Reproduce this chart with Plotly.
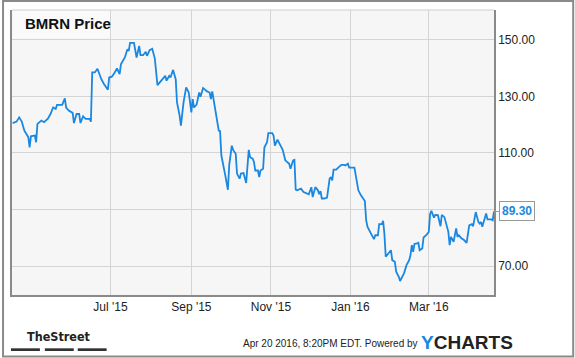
import plotly.graph_objects as go

dates = [
    "2015-04-17", "2015-04-20", "2015-04-22", "2015-04-24", "2015-04-26", "2015-04-29", "2015-04-30",
    "2015-05-01", "2015-05-04", "2015-05-05", "2015-05-06", "2015-05-09", "2015-05-11", "2015-05-14",
    "2015-05-16", "2015-05-18", "2015-05-20", "2015-05-21", "2015-05-23", "2015-05-25", "2015-05-27",
    "2015-05-28", "2015-05-30", "2015-06-02", "2015-06-03", "2015-06-05", "2015-06-07", "2015-06-08",
    "2015-06-10", "2015-06-12", "2015-06-15", "2015-06-16", "2015-06-17", "2015-06-19", "2015-06-21",
    "2015-06-24", "2015-06-26", "2015-06-29", "2015-06-30", "2015-07-02", "2015-07-04", "2015-07-06",
    "2015-07-08", "2015-07-09", "2015-07-12", "2015-07-14", "2015-07-15", "2015-07-16", "2015-07-19",
    "2015-07-21", "2015-07-23", "2015-07-24", "2015-07-26", "2015-07-28", "2015-07-29", "2015-07-31",
    "2015-08-02", "2015-08-04", "2015-08-06", "2015-08-08", "2015-08-10", "2015-08-12", "2015-08-13",
    "2015-08-15", "2015-08-16", "2015-08-18", "2015-08-20", "2015-08-21", "2015-08-23", "2015-08-24",
    "2015-08-26", "2015-08-28", "2015-08-30", "2015-09-01", "2015-09-02", "2015-09-03", "2015-09-05",
    "2015-09-07", "2015-09-08", "2015-09-10", "2015-09-11", "2015-09-13", "2015-09-15", "2015-09-16",
    "2015-09-17", "2015-09-19", "2015-09-22", "2015-09-23", "2015-09-24", "2015-09-27", "2015-09-29",
    "2015-09-30", "2015-10-02", "2015-10-03", "2015-10-05", "2015-10-06", "2015-10-08", "2015-10-09",
    "2015-10-11", "2015-10-13", "2015-10-15", "2015-10-16", "2015-10-18", "2015-10-19", "2015-10-20",
    "2015-10-22", "2015-10-23", "2015-10-24", "2015-10-26", "2015-10-27", "2015-10-29", "2015-10-30",
    "2015-11-02", "2015-11-03", "2015-11-04", "2015-11-06", "2015-11-09", "2015-11-10", "2015-11-12",
    "2015-11-14", "2015-11-15", "2015-11-16", "2015-11-18", "2015-11-19", "2015-11-20", "2015-11-21",
    "2015-11-24", "2015-11-26", "2015-11-29", "2015-11-30", "2015-12-02", "2015-12-03", "2015-12-05",
    "2015-12-07", "2015-12-08", "2015-12-09", "2015-12-10", "2015-12-12", "2015-12-14", "2015-12-16",
    "2015-12-17", "2015-12-18", "2015-12-19", "2015-12-21", "2015-12-23", "2015-12-25", "2015-12-27",
    "2015-12-28", "2015-12-30", "2015-12-31", "2016-01-04", "2016-01-05", "2016-01-07", "2016-01-09",
    "2016-01-11", "2016-01-12", "2016-01-13", "2016-01-14", "2016-01-16", "2016-01-19", "2016-01-20",
    "2016-01-22", "2016-01-23", "2016-01-25", "2016-01-26", "2016-01-27", "2016-01-28", "2016-01-30",
    "2016-02-01", "2016-02-02", "2016-02-04", "2016-02-05", "2016-02-07", "2016-02-08", "2016-02-10",
    "2016-02-11", "2016-02-13", "2016-02-15", "2016-02-16", "2016-02-17", "2016-02-18", "2016-02-19",
    "2016-02-21", "2016-02-22", "2016-02-23", "2016-02-25", "2016-02-26", "2016-02-28", "2016-03-01",
    "2016-03-02", "2016-03-03", "2016-03-05", "2016-03-06", "2016-03-08", "2016-03-10", "2016-03-11",
    "2016-03-13", "2016-03-14", "2016-03-16", "2016-03-17", "2016-03-18", "2016-03-20", "2016-03-22",
    "2016-03-23", "2016-03-24", "2016-03-26", "2016-03-28", "2016-03-30", "2016-04-01", "2016-04-03",
    "2016-04-04", "2016-04-06", "2016-04-08", "2016-04-09", "2016-04-10", "2016-04-11", "2016-04-13",
    "2016-04-14", "2016-04-15", "2016-04-18", "2016-04-19", "2016-04-20",
]

prices = [
    120.6, 121.1, 122.6, 121.1, 117.9, 115.6, 112.0,
    115.9, 116.2, 113.8, 120.3, 121.5, 120.9, 122.1,
    123.8, 126.1, 125.6, 127.0, 127.0, 127.0, 129.3,
    126.1, 125.0, 124.2, 120.6, 123.8, 123.8, 120.6,
    123.0, 122.1, 122.1, 121.1, 138.5, 138.5, 139.8,
    136.1, 134.4, 132.4, 136.7, 137.0, 138.3, 139.9,
    137.9, 141.4, 143.8, 146.7, 146.1, 149.0, 149.0,
    143.8, 147.9, 144.6, 144.6, 145.8, 144.4, 146.4,
    146.9, 143.4, 134.0, 135.0, 136.1, 137.3, 135.6,
    137.3, 136.7, 139.4, 136.1, 127.9, 123.2, 119.7,
    127.9, 133.2, 131.4, 124.4, 129.1, 126.1, 127.1,
    131.4, 129.9, 133.0, 132.6, 131.8, 131.4, 129.1,
    131.8, 126.7, 117.9, 117.7, 109.1, 102.1, 97.0,
    105.6, 112.6, 111.1, 109.7, 102.7, 100.9, 102.7,
    102.9, 99.4, 111.1, 108.5, 108.0, 106.8, 103.8,
    103.8, 101.5, 103.8, 104.4, 112.0, 113.8, 117.0,
    117.0, 116.2, 112.6, 114.7, 111.8, 111.1, 107.4,
    106.8, 106.2, 104.4, 107.4, 107.6, 97.0, 96.8,
    97.4, 96.2, 95.8, 95.4, 97.9, 94.4, 97.9,
    96.8, 95.4, 96.5, 93.9, 93.9, 94.2, 100.9,
    101.5, 100.3, 104.1, 104.1, 105.0, 105.8, 105.8,
    105.6, 106.2, 104.8, 104.8, 102.1, 96.8, 95.0,
    93.5, 93.0, 86.2, 83.9, 82.1, 79.5, 80.9,
    80.9, 84.8, 84.8, 86.0, 81.3, 73.3, 74.5,
    75.6, 72.1, 71.5, 68.0, 66.2, 64.7, 66.8,
    67.4, 70.4, 72.1, 73.9, 77.4, 75.0, 77.8,
    78.0, 78.2, 75.6, 76.2, 80.1, 80.9, 82.1,
    88.3, 89.5, 87.1, 88.1, 88.0, 84.1, 88.1,
    87.3, 85.6, 82.1, 77.4, 80.3, 78.6, 83.3,
    80.3, 80.9, 79.8, 79.2, 78.2, 84.4, 84.8,
    84.1, 89.1, 85.6, 85.0, 85.6, 83.9, 86.8,
    88.6, 86.5, 86.5, 86.2, 89.3,
]

x_tick_vals = ["2015-07-01", "2015-09-01", "2015-11-01", "2016-01-01", "2016-03-01"]
x_tick_text = ["Jul '15", "Sep '15", "Nov '15", "Jan '16", "Mar '16"]
y_tick_vals = [70, 90, 110, 130, 150]
# the 90 label is covered by the last-value flag in the reference
y_tick_text = ["70.00", "", "110.00", "130.00", "150.00"]

title_text = "BMRN Price"
footer_date = "Apr 20 2016, 8:20PM EDT. Powered by"
last_label = "89.30"

FONT = "Liberation Sans, Arial, sans-serif"
BLUE = "#1a87e0"

fig = go.Figure()
fig.add_trace(go.Scatter(
    x=dates, y=prices, mode="lines",
    line=dict(color=BLUE, width=1.8), hoverinfo="skip", showlegend=False,
))

fig.update_layout(
    width=575, height=358, autosize=False,
    margin=dict(l=10, r=81, t=10, b=63),
    paper_bgcolor="white", plot_bgcolor="#f6f6f6",
    font=dict(family=FONT, size=12, color="#222"),
    showlegend=False,
    xaxis=dict(
        type="date", range=["2015-04-16 12:00", "2016-04-20"],
        tickvals=x_tick_vals, ticktext=x_tick_text,
        showgrid=True, gridcolor="#d4d4d4", gridwidth=1,
        showline=True, linecolor="#8a8a8a", linewidth=1.5,
        ticks="", zeroline=False, tickfont=dict(size=12, color="#222"),
    ),
    yaxis=dict(
        side="right", range=[59.75, 160.6],
        tickvals=y_tick_vals, ticktext=y_tick_text,
        showgrid=True, gridcolor="#d4d4d4", gridwidth=1,
        showline=True, linecolor="#8a8a8a", linewidth=1.5, mirror=True,
        ticks="", zeroline=False, tickfont=dict(size=12, color="#222"),
    ),
)

shapes = [
    # title box
    dict(type="rect", xref="paper", yref="paper", x0=0.002, x1=0.2066, y0=0.9018, y1=0.997,
         fillcolor="#fafafa", line=dict(width=0), layer="below"),
    # top border (light)
    dict(type="line", xref="paper", yref="paper", x0=0, x1=1, y0=1, y1=1,
         line=dict(color="#d0d0d0", width=1.2)),
    # outer frame
    dict(type="rect", xref="paper", yref="paper", x0=-0.0186, x1=1.1643, y0=-0.2158, y1=1.0316,
         line=dict(color="#8a8a8a", width=2), fillcolor="rgba(0,0,0,0)"),
    # TheStreet bars
    dict(type="rect", xref="paper", yref="paper", x0=-0.0021, x1=0.0579, y0=-0.1965, y1=-0.187,
         fillcolor="#333", line=dict(width=0)),
    dict(type="rect", xref="paper", yref="paper", x0=0.0682, x1=0.1281, y0=-0.1965, y1=-0.187,
         fillcolor="#333", line=dict(width=0)),
    dict(type="rect", xref="paper", yref="paper", x0=0.1364, x1=0.1963, y0=-0.1965, y1=-0.187,
         fillcolor="#333", line=dict(width=0)),
]
fig.update_layout(shapes=shapes)

annotations = [
    dict(text="<b>" + title_text + "</b>", xref="paper", yref="paper", x=0.0227, y=0.9526,
         xanchor="left", yanchor="middle", showarrow=False,
         font=dict(family=FONT, size=15, color="#111")),
    dict(text="<b>" + last_label + "</b>", x=dates[-1], y=prices[-1], xref="x", yref="y",
         showarrow=True, arrowhead=0, arrowwidth=1, arrowcolor="#999",
         ax=5, ay=0, xanchor="left", yanchor="middle",
         bgcolor="white", bordercolor="#999", borderwidth=1, borderpad=2,
         font=dict(family=FONT, size=12, color=BLUE)),
    dict(text="<b>TheStreet</b>", xref="paper", yref="paper", x=0.0971, y=-0.1439,
         xanchor="center", yanchor="middle", showarrow=False,
         font=dict(family="Liberation Sans Narrow, DejaVu Sans Condensed, sans-serif", size=12.5, color="#222")),
    dict(text=footer_date, xref="paper", yref="paper", x=0.846, y=-0.1719,
         xanchor="right", yanchor="middle", showarrow=False,
         font=dict(family=FONT, size=10, color="#222")),
    dict(text="<b><span style='color:#1a87e0'>Y</span>CHARTS</b>", xref="paper", yref="paper",
         x=0.845, y=-0.165, xanchor="left", yanchor="middle", showarrow=False,
         font=dict(family=FONT, size=19, color="#222")),
]
fig.update_layout(annotations=annotations)

fig.write_html("out.html", config={"displayModeBar": False})
